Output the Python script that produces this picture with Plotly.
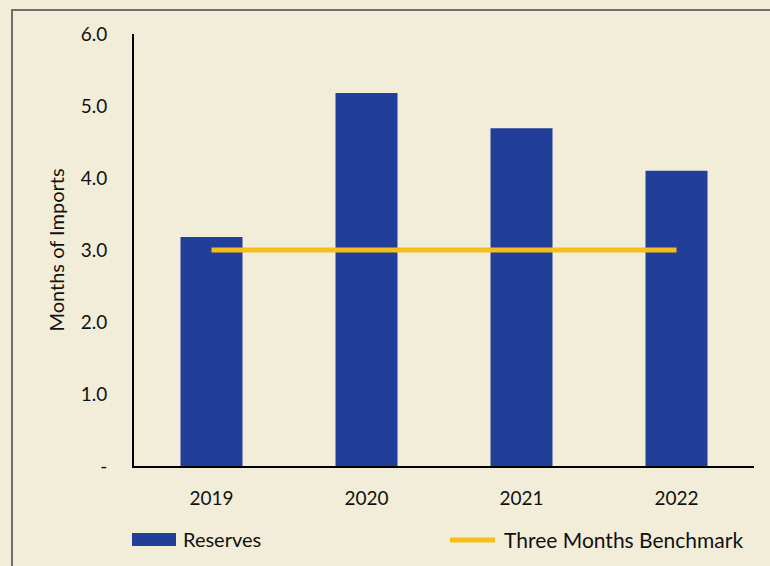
import plotly.graph_objects as go

years = ["2019", "2020", "2021", "2022"]
reserves = [3.18, 5.18, 4.69, 4.10]
benchmark = [3.0, 3.0, 3.0, 3.0]
ytick_vals = [0, 1, 2, 3, 4, 5, 6]
ytick_text = ["-", "1.0", "2.0", "3.0", "4.0", "5.0", "6.0"]
series_names = ["Reserves", "Three Months Benchmark"]

BG = "#F2EDD8"
BLUE = "#213F99"
GOLD = "#F6BE1A"
FONT = "Lato"

# plot area in pixels: x 134..754, y 34..466
L, R, T, B = 134, 16, 34, 100
W, H = 770, 566
PW, PH = W - L - R, H - T - B


def px(x):
    return (x - L) / PW


def py(y):
    return (H - B - y) / PH


fig = go.Figure()
fig.add_trace(go.Bar(x=years, y=reserves, name=series_names[0],
                     marker=dict(color=BLUE, line=dict(width=0)), width=0.4))
fig.add_trace(go.Scatter(x=years, y=benchmark, name=series_names[1],
                         mode="lines", line=dict(color=GOLD, width=5)))

shapes = [
    dict(type="rect", xref="paper", yref="paper",
         x0=px(12), x1=px(800), y0=py(600), y1=py(10),
         line=dict(color="#6E6E6E", width=2), fillcolor="rgba(0,0,0,0)", layer="below"),
    # legend swatches
    dict(type="rect", xref="paper", yref="paper",
         x0=px(132), x1=px(176), y0=py(546), y1=py(533),
         line=dict(width=0), fillcolor=BLUE),
    dict(type="line", xref="paper", yref="paper",
         x0=px(450), x1=px(495), y0=py(540), y1=py(540),
         line=dict(color=GOLD, width=5)),
]
annotations = [
    dict(text=series_names[0], xref="paper", yref="paper", x=px(181), y=py(539),
         xanchor="left", yanchor="middle", showarrow=False, font=dict(size=20)),
    dict(text=series_names[1], xref="paper", yref="paper", x=px(502), y=py(539),
         xanchor="left", yanchor="middle", showarrow=False, font=dict(size=21)),
]

fig.update_layout(
    width=W, height=H,
    margin=dict(l=L, r=R, t=T, b=B),
    paper_bgcolor=BG, plot_bgcolor=BG,
    font=dict(family=FONT, size=19, color="#111111"),
    showlegend=False,
    xaxis=dict(showline=True, linecolor="black", linewidth=2, showgrid=False,
               ticks="", ticklabelstandoff=14, zeroline=False, automargin=False),
    yaxis=dict(range=[0, 6], tickvals=ytick_vals, ticktext=ytick_text,
               showline=True, linecolor="black", linewidth=2, showgrid=False,
               zeroline=False, ticks="", ticklabelstandoff=21, automargin=False,
               title=dict(text="Months of Imports", font=dict(size=20), standoff=11)),
    shapes=shapes,
    annotations=annotations,
)

fig.write_html("out.html")
